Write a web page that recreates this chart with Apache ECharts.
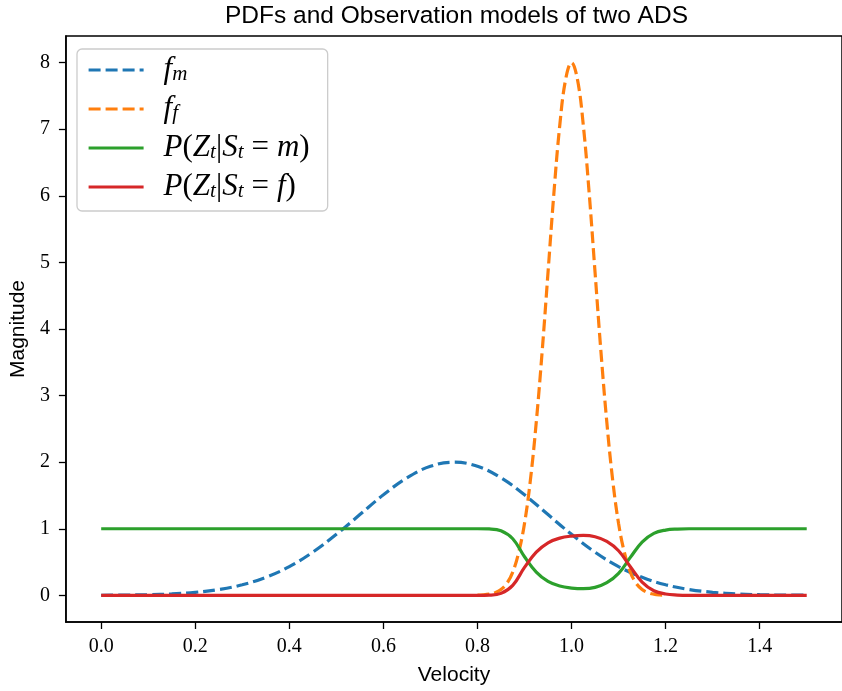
<!DOCTYPE html>
<html><head><meta charset="utf-8">
<script src="https://cdn.jsdelivr.net/npm/echarts@6/dist/echarts.min.js"></script>
<style>html,body{margin:0;padding:0;background:#fff}#c{width:842px;height:691px}</style>
</head><body><div id="c"></div>
<script>
// Tick labels
const xTicks = [0, 0.2, 0.4, 0.6, 0.8, 1.0, 1.2, 1.4];
const yTicks = [0, 1, 2, 3, 4, 5, 6, 7, 8];

// f_m (blue dashed)
const fmX = [0, 0.05, 0.1, 0.15, 0.2, 0.25, 0.3, 0.35, 0.4, 0.45, 0.5, 0.55, 0.6, 0.65, 0.7, 0.75,
             0.8, 0.85, 0.9, 0.95, 1.0, 1.05, 1.1, 1.15, 1.2, 1.25, 1.3, 1.35, 1.4, 1.45, 1.5];
const fmY = [0.002, 0.004, 0.01, 0.022, 0.046, 0.088, 0.159, 0.271, 0.432, 0.649, 0.916, 1.213, 1.51, 1.765, 1.938, 2.0,
             1.938, 1.765, 1.51, 1.213, 0.916, 0.649, 0.432, 0.271, 0.159, 0.088, 0.046, 0.022, 0.01, 0.004, 0.002];

// f_f (orange dashed)
const ffX = [0.8, 0.8125, 0.825, 0.8375, 0.85, 0.8625, 0.875, 0.8875, 0.9, 0.9125, 0.925, 0.9375, 0.95, 0.9625, 0.975, 0.9875,
             1.0, 1.0125, 1.025, 1.0375, 1.05, 1.0625, 1.075, 1.0875, 1.1, 1.1125, 1.125, 1.1375, 1.15, 1.1625, 1.175, 1.1875, 1.2];
const ffY = [0.003, 0.007, 0.018, 0.041, 0.089, 0.18, 0.35, 0.64, 1.08, 1.73, 2.6, 3.66, 4.85, 6.04, 7.06, 7.75,
             8.0, 7.75, 7.06, 6.04, 4.85, 3.66, 2.6, 1.73, 1.08, 0.64, 0.35, 0.18, 0.089, 0.041, 0.018, 0.007, 0.003];

// Observation models
const obsX = [0, 0.2, 0.4, 0.6, 0.7, 0.75, 0.8, 0.825, 0.85, 0.875, 0.9, 0.925, 0.95, 0.975, 1.0, 1.025, 1.05, 1.075, 1.1, 1.125, 1.15, 1.175, 1.2, 1.225, 1.25, 1.3, 1.4, 1.5];
const pmY  = [1, 1, 1, 1, 1, 1, 1, 0.997, 0.97, 0.85, 0.58, 0.35, 0.21, 0.14, 0.11, 0.1, 0.12, 0.19, 0.33, 0.57, 0.8, 0.93, 0.98, 0.996, 1, 1, 1, 1];
const pfY  = [0, 0, 0, 0, 0, 0, 0, 0.003, 0.03, 0.15, 0.42, 0.65, 0.79, 0.86, 0.89, 0.9, 0.88, 0.81, 0.67, 0.43, 0.2, 0.07, 0.02, 0.004, 0, 0, 0, 0];

const pairs = (xs, ys) => xs.map((x, i) => [x, ys[i]]);

const legendText = {
  fm: '{i|f}{s|m}',
  ff: '{i|f}{s|f}',
  pm: '{i|P}{r|(}{i|Z}{s|t}{r||}{i|S}{s|t}{e|=}{i|m}{r|)}',
  pf: '{i|P}{r|(}{i|Z}{s|t}{r||}{i|S}{s|t}{e|=}{i|f}{r|)}'
};

const serif = 'Liberation Serif';
const sans = 'Liberation Sans';

const chart = echarts.init(document.getElementById('c'));
chart.setOption({
  animation: false,
  backgroundColor: '#fff',
  title: {
    text: 'PDFs and Observation models of two ADS',
    left: 220, top: -1,
    textStyle: { fontFamily: sans, fontSize: 24.5, fontWeight: 'normal', color: '#000' }
  },
  grid: { left: 65, top: 36, bottom: 69, right: -8, show: true, borderColor: '#000', borderWidth: 1.5, backgroundColor: 'transparent' },
  legend: {
    orient: 'vertical', left: 77, top: 49,
    padding: [5, 18, 9, 10],
    itemGap: 8, itemWidth: 55, itemHeight: 14,
    backgroundColor: 'rgba(255,255,255,0.8)', borderColor: '#cccccc', borderWidth: 1.3, borderRadius: 5,
    itemStyle: { color: 'rgba(0,0,0,0)', borderWidth: 0, opacity: 0 },
    lineStyle: { width: 3.2 },
    data: ['fm', 'ff', 'pm', 'pf'],
    formatter: n => legendText[n],
    textStyle: {
      padding: [0, 0, 0, 15],
      rich: {
        i: { fontFamily: serif, fontStyle: 'italic', fontSize: 31, lineHeight: 30, verticalAlign: 'bottom', color: '#000' },
        r: { fontFamily: serif, fontSize: 31, lineHeight: 30, verticalAlign: 'bottom', color: '#000' },
        e: { fontFamily: serif, fontSize: 31, lineHeight: 30, verticalAlign: 'bottom', color: '#000', padding: [0, 8, 0, 8] },
        s: { fontFamily: serif, fontStyle: 'italic', fontSize: 21, lineHeight: 14, verticalAlign: 'bottom', color: '#000' }
      }
    }
  },
  xAxis: {
    type: 'value', min: -0.075, max: 1.575,
    name: 'Velocity', nameLocation: 'middle', nameGap: 43,
    nameTextStyle: { fontFamily: sans, fontSize: 21, color: '#000' },
    axisLine: { show: true, onZero: false, lineStyle: { color: '#000', width: 1.5 } },
    axisTick: { show: true, length: 7, customValues: xTicks, lineStyle: { color: '#000', width: 1.3 } },
    axisLabel: { customValues: xTicks, margin: 15, fontFamily: serif, fontSize: 20, color: '#000', formatter: v => v.toFixed(1) },
    splitLine: { show: false }
  },
  yAxis: {
    type: 'value', min: -0.4, max: 8.4,
    name: 'Magnitude', nameLocation: 'middle', nameGap: 36, nameRotate: 90,
    nameTextStyle: { fontFamily: sans, fontSize: 21, color: '#000' },
    axisLine: { show: true, onZero: false, lineStyle: { color: '#000', width: 1.5 } },
    axisTick: { show: true, length: 7, customValues: yTicks, lineStyle: { color: '#000', width: 1.3 } },
    axisLabel: { customValues: yTicks, margin: 16, fontFamily: serif, fontSize: 20, color: '#000', formatter: v => String(v) },
    splitLine: { show: false }
  },
  series: [
    { name: 'fm', type: 'line', data: pairs(fmX, fmY), symbol: 'none', smooth: 0.4,
      lineStyle: { color: '#1f77b4', width: 3.2, type: [12, 5] }, itemStyle: { color: '#1f77b4' } },
    { name: 'ff', type: 'line', data: pairs(ffX, ffY), symbol: 'none', smooth: 0.4,
      lineStyle: { color: '#ff7f0e', width: 3.2, type: [12, 5] }, itemStyle: { color: '#ff7f0e' } },
    { name: 'pm', type: 'line', data: pairs(obsX, pmY), symbol: 'none', smooth: 0.4,
      lineStyle: { color: '#2ca02c', width: 3.2 }, itemStyle: { color: '#2ca02c' } },
    { name: 'pf', type: 'line', data: pairs(obsX, pfY), symbol: 'none', smooth: 0.4,
      lineStyle: { color: '#d62728', width: 3.2 }, itemStyle: { color: '#d62728' } }
  ]
});
</script>
</body></html>
